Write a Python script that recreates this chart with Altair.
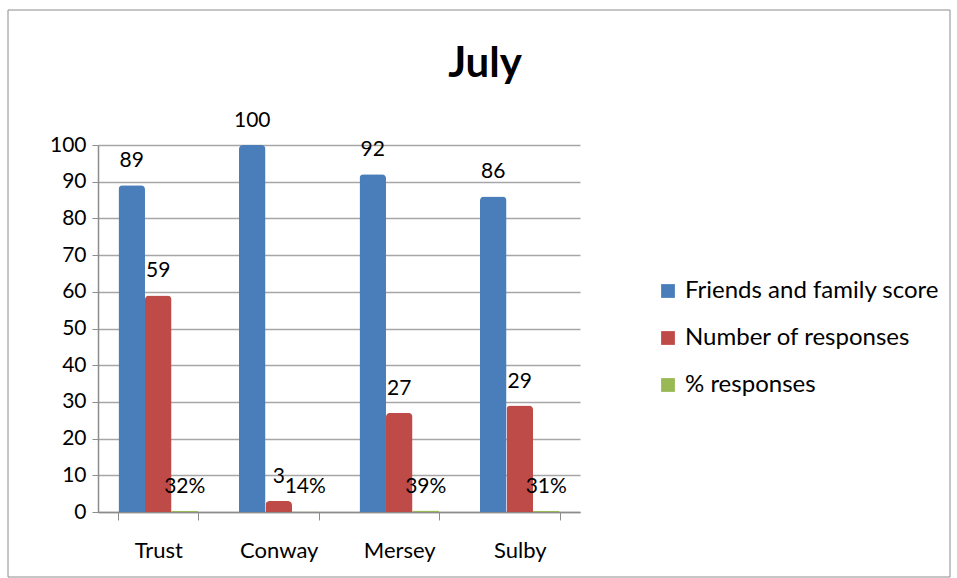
import altair as alt
import pandas as pd

categories = ["Trust", "Conway", "Mersey", "Sulby"]
series_names = ["Friends and family score", "Number of responses", "% responses"]
ff_score = [89, 100, 92, 86]
responses = [59, 3, 27, 29]
pct_responses = [0.32, 0.14, 0.39, 0.31]
colors = ["#4A7EBB", "#BE4B48", "#98B954"]

rows = []
for i, c in enumerate(categories):
    rows.append({"cat": c, "series": series_names[0], "value": ff_score[i], "label": str(ff_score[i])})
    rows.append({"cat": c, "series": series_names[1], "value": responses[i], "label": str(responses[i])})
    rows.append({"cat": c, "series": series_names[2], "value": pct_responses[i],
                 "label": f"{round(pct_responses[i] * 100)}%"})
df = pd.DataFrame(rows)

FONT = "Lato"

x_enc = alt.X("cat:N", sort=categories, title=None,
              scale=alt.Scale(paddingInner=0.34, paddingOuter=0.17),
              axis=alt.Axis(labelAngle=0, labelFontSize=22, labelFont=FONT, labelColor="black",
                            labelPadding=20, tickBand="extent", tickSize=8, tickColor="#8c8c8c",
                            domainColor="#8c8c8c", domainWidth=1.5, grid=False))
y_enc = alt.Y("value:Q", title=None,
              scale=alt.Scale(domain=[0, 100], nice=False),
              axis=alt.Axis(values=list(range(0, 101, 10)), labelFontSize=21, labelFont=FONT,
                            labelColor="black", labelPadding=6, tickSize=6, tickColor="#8c8c8c",
                            labelOverlap=False,
                            domainColor="#8c8c8c", domainWidth=1.5, gridColor="#a6a6a6",
                            gridWidth=1.5))
xoff = alt.XOffset("series:N", sort=series_names)
color_enc = alt.Color("series:N", sort=series_names,
                      scale=alt.Scale(domain=series_names, range=colors),
                      legend=alt.Legend(title=None, orient="none", legendX=558, legendY=134,
                                        labelFont=FONT, labelFontSize=24, labelColor="black",
                                        labelLimit=0,
                                        symbolType="square", symbolSize=190, symbolStrokeWidth=0,
                                        rowPadding=23, labelOffset=5))

base = alt.Chart(df)

bars = base.mark_bar(cornerRadiusTopLeft=4, cornerRadiusTopRight=4, stroke=None).encode(
    x=x_enc, xOffset=xoff, y=y_enc, color=color_enc
)

labels = base.mark_text(baseline="bottom", dy=-14, fontSize=21, font=FONT, color="black").encode(
    x=x_enc, xOffset=xoff, y=y_enc, text="label:N"
)

frame = alt.Chart(pd.DataFrame({"k": [0]})).mark_rect(fill=None, stroke="#8c8c8c", strokeWidth=1).encode(
    x=alt.value(-90), x2=alt.value(852), y=alt.value(-135), y2=alt.value(432)
)

chart = alt.layer(frame, bars, labels).properties(
    width=482, height=367,
    autosize=alt.AutoSizeParams(type="none"),
    padding={"left": 98, "top": 145, "right": 377, "bottom": 66},
    title=alt.TitleParams("July", fontSize=42, font=FONT, fontWeight="bold", color="black",
                          anchor="middle", dx=146, offset=-76),
).configure_view(stroke=None)

chart.save("out.html", embed_options={"renderer": "svg", "actions": False})
